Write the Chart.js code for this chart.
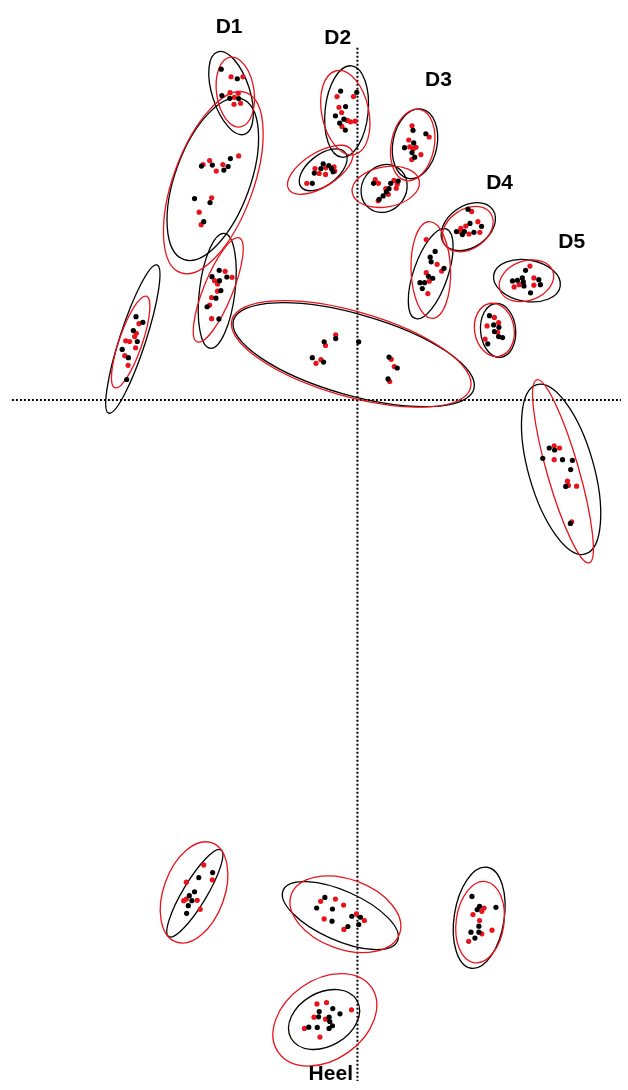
<!DOCTYPE html>
<html lang="en">
<head>
    <meta charset="UTF-8">
    <title>Foot pressure centroids</title>
    <script src="https://cdn.jsdelivr.net/npm/chart.js"></script>
    <style>
        body { margin: 0; background: #fff; }
        #chart-container { width: 628px; height: 1090px; position: relative; }
    </style>
</head>
<body>
    <div id="chart-container">
        <canvas id="footChart"></canvas>
    </div>
    <script>
        // point coordinates [x, y], origin at the crossing of the dotted axes
        const blackPoints = [
            [-138, 333.3], [-121.7, 323.7], [-137.3, 306.7], [-129.3, 304], [-120.3, 303.7],
            [-158, 235.7], [-147, 236.7], [-135.3, 231.7], [-131, 235.3], [-128.7, 243.3], [-165, 203], [-149.3, 199], [-155.7, 179.7],
            [-140, 130.7], [-147.3, 124.3], [-132.3, 124], [-139.7, 120.3], [-138.3, 110.3], [-143.3, 102.7], [-152.3, 94], [-140.3, 81.7],
            [-17, 311.3], [-0.7, 310], [-12, 295.7], [-22.3, 286.3], [-18, 279], [-13.7, 283], [-12.3, 272],
            [-34.7, 238], [-37, 233.3], [-29, 236.3], [-26.3, 233.3], [-43.7, 228.7], [-24.7, 230], [-45.7, 218.3],
            [56.3, 271.7], [69.3, 268.3], [57, 259], [47.7, 254.3], [55.3, 249.3], [58, 244.7],
            [16.3, 218.3], [33.7, 218.3], [41.3, 220.7], [32, 213], [29.3, 209.7], [26, 205.7], [22, 202.3],
            [112, 192.3], [114, 178], [125.7, 175], [100.3, 169.7], [108.3, 169.7], [106.3, 166.7], [118, 169],
            [78.7, 149.7], [73.7, 144], [74.7, 139.3], [87.7, 132.7], [72, 124.7], [76.3, 122.7], [63.3, 118.3], [68, 118.3], [65.7, 112.3],
            [170.3, 130.7], [157, 120], [162, 120.7], [167, 123], [168, 119], [168.7, 115], [183.7, 121.3], [185.3, 116.3], [175.3, 108],
            [133.7, 85], [138, 75.7], [143.3, 73.3], [138.7, 69], [143, 64], [147, 63], [132, 56.7],
            [-224.3, 84], [-217.3, 78.3], [-227, 70], [-223, 59], [-238.3, 51], [-232, 42.7], [-233.7, 20.7],
            [-22, 62], [-33.7, 58.7], [1.3, 58.7], [-45.7, 42.7], [-34.3, 38.3], [32, 43.3], [40.3, 32.3], [31, 21.3],
            [194.3, -48.3], [199.7, -50.3], [187.7, -58.7], [207.7, -60], [217.7, -60.7], [216, -70], [211, -87], [215.7, -124.3],
            [-146.7, -476], [-160.7, -481], [-165, -495.3], [-170.3, -499.3], [-167.7, -504.3], [-171.3, -509.3], [-173, -517],
            [-33, -501], [-41.3, -511.7], [-25.3, -512.7], [-25.7, -525], [-5.7, -520], [3, -521], [-9.7, -530.3], [1.3, -528.3],
            [116, -500], [123.7, -510], [121.3, -513.3], [140.3, -511], [123, -530], [123, -536], [115, -536], [119, -542],
            [-38.7, -616], [-25, -613], [-17.7, -618.3], [-39.3, -621.3], [-28.7, -621.7], [-28, -626], [-49.3, -631.7], [-40.7, -632], [-28.7, -633], [-25.3, -630.3]
        ];

        const redPoints = [
            [-128, 325.7], [-116, 325.7], [-129, 309.7], [-124.7, 305], [-120.7, 309], [-125, 298], [-118.3, 299],
            [-156.3, 237.3], [-149.7, 241.3], [-143, 230.7], [-136.3, 237.3], [-120.3, 246], [-147.7, 203.7], [-160.3, 189.3], [-158.3, 176.7],
            [-134, 129.7], [-127, 123.7], [-144.7, 120.3], [-141.7, 117], [-141.7, 109.7], [-147.7, 103.3], [-149.7, 95.7], [-147.7, 82],
            [-20.7, 305.7], [-4, 305.7], [-18.7, 295], [-16, 289.7], [-10.3, 281.7], [-7, 280.3], [-2.3, 281], [-15.7, 275.7],
            [-43, 233.3], [-32, 234], [-23.7, 235], [-38.7, 228.3], [-32.3, 227.3], [-23, 230.7], [-51.3, 218.3],
            [55.3, 276.3], [72.7, 265], [52, 262], [59.3, 254.7], [53, 255], [56.7, 253.3], [64.3, 247.3], [55, 242.3],
            [18, 222], [21.3, 218.3], [37, 221.3], [40.3, 217.3], [28.7, 213], [39.3, 213.3], [31.3, 207.3], [21, 200.7],
            [115.7, 190], [122, 179.7], [109.7, 175.3], [104.7, 173], [103.7, 169.7], [113, 167.3], [124, 169],
            [69.7, 161.7], [80.7, 136.7], [85.3, 130], [69.7, 128.3], [72.7, 119.7], [71.3, 107.3],
            [174.7, 135], [163.7, 116.3], [158.7, 114], [178.7, 123], [178.7, 115.7],
            [138.7, 83.3], [131.3, 74.7], [143, 78], [142, 68.3], [129.3, 61.3],
            [-221.3, 77], [-224, 67.3], [-225.7, 64], [-234.7, 59.7], [-230.7, 59], [-224.7, 52.7], [-235.7, 44.7], [-232.3, 35],
            [-22, 65.7], [-32.3, 55], [-37, 40.7], [-42, 37], [34.3, 41], [37.3, 33.7], [32.7, 18.7],
            [199.3, -46], [204.7, -48.3], [199.3, -60], [212.7, -81.7], [213.7, -86], [222, -86.7], [217, -122.7],
            [-155.7, -468.3], [-147, -483.3], [-173.3, -485.7], [-173.3, -502.7], [-176, -504.3], [-162.3, -504], [-159.3, -513],
            [-37.3, -505], [-22.3, -502.7], [-14, -508.7], [-33.7, -522.7], [-1, -517.7], [7, -524.3], [-13.7, -533.3],
            [128.3, -511.7], [126, -515], [117, -518.3], [123.7, -524.3], [126, -537.7], [136.3, -534], [112.7, -545.3],
            [-41, -608.3], [-31.3, -607], [-6, -614.3], [-44, -621.7], [-32.3, -623.7], [-53.7, -633], [-38, -641.7]
        ];

        // confidence ellipses: [centre x, centre y, semi-major, semi-minor, tilt of major axis from vertical in degrees]
        const blackEllipses = [
            [-128, 309.3, 43.7, 19, -18], [-146.5, 222.5, 86, 38, 20], [-142, 110, 58.3, 18, 7],
            [-11, 290.7, 46.3, 21.8, 6], [-34.7, 232, 28.2, 15.3, 52],
            [58.3, 258.2, 35.6, 22.4, 11], [27, 213.2, 25, 22.4, 35],
            [112.3, 174.7, 30, 21, 55], [74.2, 127.3, 47.7, 17.4, 19],
            [171.7, 120.3, 34, 21, 100], [142.5, 70.2, 27.2, 17.8, -5],
            [-227.5, 61.5, 78.5, 13.2, 18], [-3.8, 45.7, 126, 41, 106], [206.3, -69.8, 88.7, 33, -16],
            [-164.7, -496.8, 51, 12, 31], [-17.3, -519.3, 63, 25, 114], [123.3, -521.5, 51.5, 25.3, 9],
            [-33.8, -624, 38.3, 27.1, 60]
        ];

        const redEllipses = [
            [-123.7, 310.3, 35.5, 19, -8], [-146, 219, 96.5, 40.5, 20], [-141, 111, 56.5, 14.7, 22],
            [-12.3, 289.5, 43.2, 23.8, -12], [-37.7, 232, 37.4, 17.4, 58],
            [56, 257, 36.5, 21.8, 11], [28.7, 214.8, 34.3, 20.3, 80],
            [111.7, 172.3, 28, 20, 55], [74.3, 131, 48.7, 20, -2],
            [171.2, 120.2, 28.3, 20, 70], [138.7, 70.7, 27, 20, -10],
            [-229.7, 58.5, 48.8, 11.7, 19], [-6.3, 46.5, 125, 43, 106], [208.2, -71.8, 95.9, 16.1, -16],
            [-165.5, -496, 53.1, 30.8, 20], [-12.2, -518, 58, 35.4, 110], [124.2, -526, 41.3, 24.2, 8],
            [-33, -624.3, 57.2, 40.6, 55]
        ];

        const regionNames = ['D1', 'D2', 'D3', 'D4', 'D5', 'Heel'];
        const regionLabelX = [-130, -20, 82, 144, 217, -27];
        const regionLabelY = [376, 365, 322, 218, 159, -679];

        // dotted axes extent
        const axisXRange = [-350, 267];
        const axisYRange = [-686, 355];

        const toXY = p => ({ x: p[0], y: p[1] });

        const sketchLayer = {
            id: 'sketchLayer',
            beforeDatasetsDraw(chart) {
                const { ctx, scales: { x, y } } = chart;
                ctx.save();

                // dotted axes
                ctx.strokeStyle = '#000';
                ctx.lineWidth = 2;
                ctx.setLineDash([2, 2]);
                ctx.beginPath();
                ctx.moveTo(x.getPixelForValue(axisXRange[0]), y.getPixelForValue(0));
                ctx.lineTo(x.getPixelForValue(axisXRange[1]), y.getPixelForValue(0));
                ctx.moveTo(x.getPixelForValue(0), y.getPixelForValue(axisYRange[1]));
                ctx.lineTo(x.getPixelForValue(0), y.getPixelForValue(axisYRange[0]));
                ctx.stroke();
                ctx.setLineDash([]);

                const drawEllipses = (list, colour) => {
                    ctx.strokeStyle = colour;
                    ctx.lineWidth = 1.3;
                    list.forEach(e => {
                        const cx = x.getPixelForValue(e[0]);
                        const cy = y.getPixelForValue(e[1]);
                        const ry = Math.abs(y.getPixelForValue(e[1] + e[2]) - cy);
                        const rx = Math.abs(x.getPixelForValue(e[0] + e[3]) - cx);
                        ctx.beginPath();
                        ctx.ellipse(cx, cy, rx, ry, e[4] * Math.PI / 180, 0, Math.PI * 2);
                        ctx.stroke();
                    });
                };
                drawEllipses(blackEllipses, '#000');
                drawEllipses(redEllipses, '#e8131b');
                ctx.restore();
            },
            afterDatasetsDraw(chart) {
                const { ctx, scales: { x, y } } = chart;
                ctx.save();
                ctx.fillStyle = '#000';
                ctx.font = 'bold 21px "Liberation Sans", Arial, sans-serif';
                ctx.textAlign = 'center';
                ctx.textBaseline = 'middle';
                regionNames.forEach((name, i) => {
                    ctx.fillText(name, x.getPixelForValue(regionLabelX[i]), y.getPixelForValue(regionLabelY[i]));
                });
                ctx.restore();
            }
        };

        const ctx = document.getElementById('footChart').getContext('2d');
        new Chart(ctx, {
            type: 'scatter',
            data: {
                datasets: [
                    {
                        label: 'black',
                        data: blackPoints.map(toXY),
                        backgroundColor: '#000',
                        borderWidth: 0,
                        pointRadius: 2.6
                    },
                    {
                        label: 'red',
                        data: redPoints.map(toXY),
                        backgroundColor: '#e8131b',
                        borderWidth: 0,
                        pointRadius: 2.6
                    }
                ]
            },
            options: {
                responsive: true,
                maintainAspectRatio: false,
                animation: false,
                layout: { padding: 0 },
                plugins: {
                    legend: { display: false },
                    tooltip: { enabled: false }
                },
                scales: {
                    x: { type: 'linear', display: false, min: -358, max: 270 },
                    y: { type: 'linear', display: false, min: -691, max: 399 }
                }
            },
            plugins: [sketchLayer]
        });
    </script>
</body>
</html>
